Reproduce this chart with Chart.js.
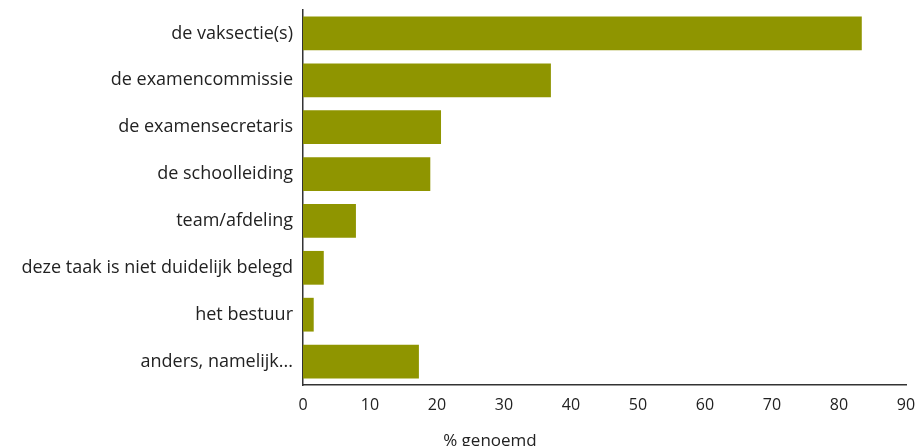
<!DOCTYPE html>
<html>
<head>
<meta charset="utf-8">
<script src="https://cdn.jsdelivr.net/npm/chart.js@4/dist/chart.umd.min.js"></script>
<style>
  html, body { margin: 0; padding: 0; background: #fff; }
  #wrap { width: 917px; height: 446px; }
</style>
</head>
<body>
<div id="wrap"><canvas id="chart"></canvas></div>
<script>
const categories = [
    'de vaksectie(s)',
    'de examencommissie',
    'de examensecretaris',
    'de schoolleiding',
    'team/afdeling',
    'deze taak is niet duidelijk belegd',
    'het bestuur',
    'anders, namelijk...'
];
const values = [83.4, 37.0, 20.6, 19.0, 7.9, 3.1, 1.6, 17.3];
const xTicks = [0, 10, 20, 30, 40, 50, 60, 70, 80, 90];
const xTitle = '% genoemd';

const barColor = '#8f9500';
const axisColor = '#333333';
const fontFamily = "'Open Sans', 'Noto Sans', sans-serif";

// axis title sits left of centre in the original
const xTitlePlugin = {
    id: 'xTitle',
    afterDraw(chart) {
        const { ctx, scales: { x } } = chart;
        ctx.save();
        ctx.font = '17px ' + fontFamily;
        ctx.fillStyle = '#222';
        ctx.textAlign = 'center';
        ctx.textBaseline = 'alphabetic';
        ctx.fillText(xTitle, x.getPixelForValue(27.9), 446);
        ctx.restore();
    }
};

new Chart(document.getElementById('chart').getContext('2d'), {
    type: 'bar',
    data: {
        labels: categories,
        datasets: [{
            data: values,
            backgroundColor: barColor,
            borderWidth: 0,
            barPercentage: 0.8,
            categoryPercentage: 0.9
        }]
    },
    options: {
        indexAxis: 'y',
        responsive: true,
        maintainAspectRatio: false,
        animation: false,
        layout: { padding: { top: 10, right: 11, left: 0, bottom: 0 } },
        plugins: {
            legend: { display: false },
            tooltip: { enabled: false }
        },
        scales: {
            x: {
                min: 0,
                max: 90,
                afterBuildTicks: s => { s.ticks = xTicks.map(v => ({ value: v })); },
                afterFit: s => { s.height = 61; s.paddingLeft = 0; s.paddingRight = 0; },
                grid: { display: false, drawTicks: false },
                border: { display: true, color: axisColor, width: 1.5 },
                ticks: {
                    color: '#222',
                    padding: 11,
                    maxRotation: 0,
                    font: { family: fontFamily, size: 16 }
                }
            },
            y: {
                afterFit: s => { s.width = 303; s.paddingTop = 0; s.paddingBottom = 0; },
                grid: { display: false, drawTicks: false },
                border: { display: true, color: axisColor, width: 1.5 },
                ticks: {
                    color: '#222',
                    padding: 10,
                    font: { family: fontFamily, size: 18 }
                }
            }
        }
    },
    plugins: [xTitlePlugin]
});
</script>
</body>
</html>
